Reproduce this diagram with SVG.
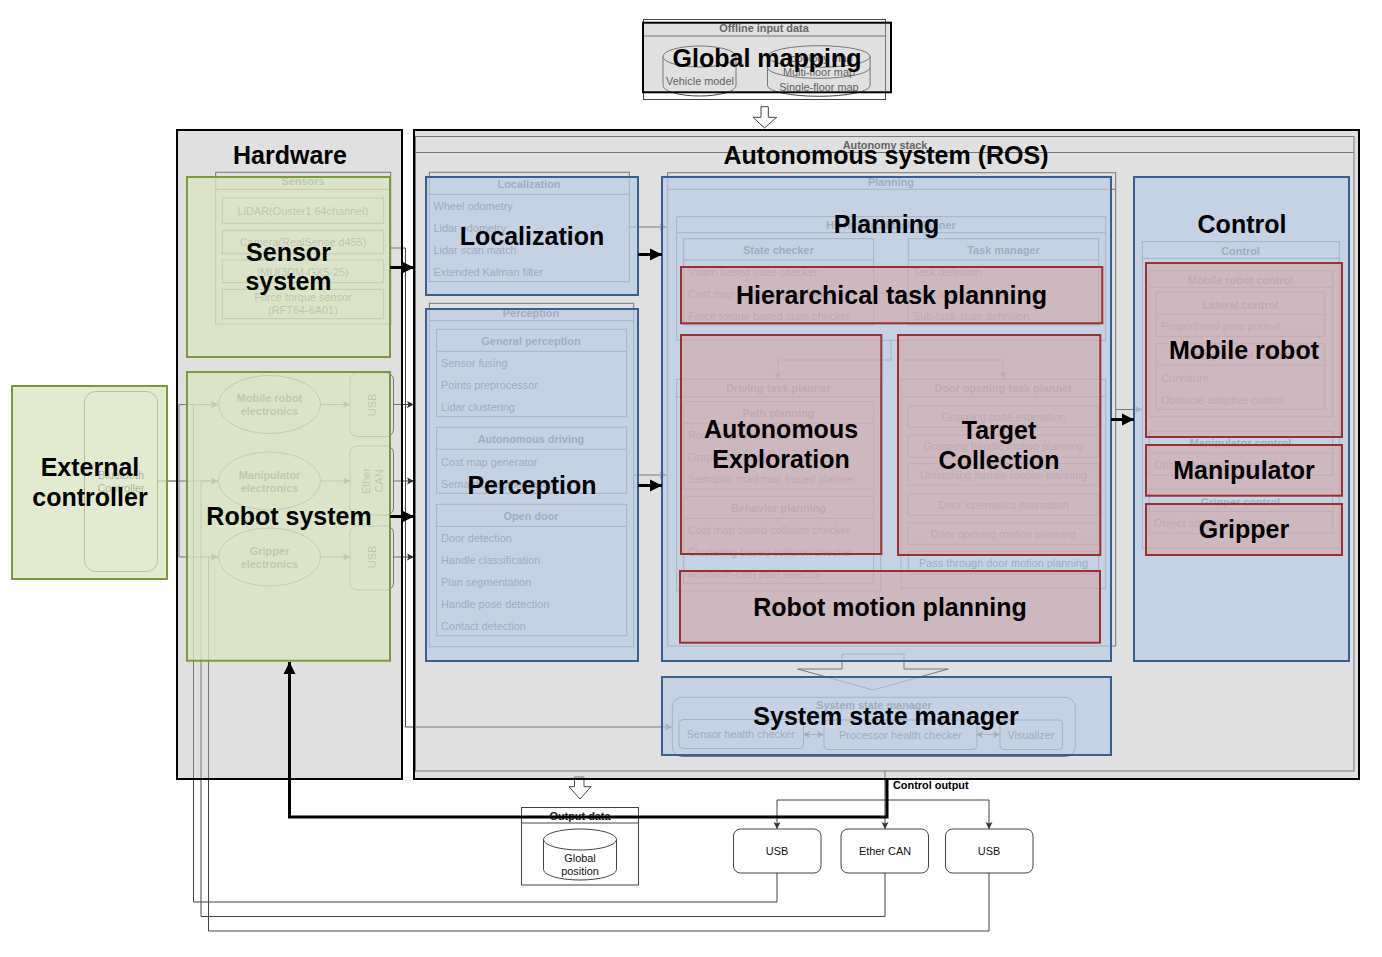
<svg xmlns="http://www.w3.org/2000/svg" width="1382" height="957" viewBox="0 0 1382 957">
<style>
text{font-family:"Liberation Sans",Arial,sans-serif;text-anchor:middle;fill:#111}
.t{font-size:10.9px;fill:#111}
.l{text-anchor:start}
.b{font-size:10.9px;font-weight:bold;fill:#222}
.s{fill:none;stroke:#444;stroke-width:1}
.c{fill:none;stroke:#444;stroke-width:1}
.h{fill:#fff;stroke:#444;stroke-width:1}
.gray{fill:#b8b8b8;fill-opacity:.44;stroke:#000;stroke-width:2}
.green{fill:#d9e5c2;fill-opacity:.77;stroke:#7a9a3e;stroke-width:2}
.blue{fill:#b8cce6;fill-opacity:.7;stroke:#35608f;stroke-width:2}
.red{fill:#d3a7a8;fill-opacity:.6;stroke:#9c3030;stroke-width:2}
.thick{fill:none;stroke:#000;stroke-width:3}
.L{font-size:25px;font-weight:bold;fill:#000}
</style>
<defs>
<marker id="a" markerUnits="userSpaceOnUse" markerWidth="8" markerHeight="8" refX="7" refY="4" orient="auto"><path d="M0 0.5L7 4L0 7.5L1.5 4z" fill="#333"/></marker>
<marker id="as" markerUnits="userSpaceOnUse" markerWidth="8" markerHeight="8" refX="1" refY="4" orient="auto"><path d="M7 0.5L0 4L7 7.5L5.5 4z" fill="#333"/></marker>
<marker id="A" markerUnits="userSpaceOnUse" markerWidth="14" markerHeight="14" refX="12" refY="7" orient="auto"><path d="M0 1L12 7L0 13z" fill="#000"/></marker>
</defs>

<g id="base-connectors">
<path class="c" d="M157.500 481H218" marker-end="url(#a)"/>
<path class="c" d="M179 481V404.500H218" marker-end="url(#a)"/>
<path class="c" d="M179 481V557H218" marker-end="url(#a)"/>
<path class="c" d="M320.500 404.500H350" marker-end="url(#a)"/>
<path class="c" d="M320.500 481H350" marker-end="url(#a)"/>
<path class="c" d="M320.500 557H350" marker-end="url(#a)"/>
<path class="c" d="M393.500 404.500H414" marker-end="url(#a)"/>
<path class="c" d="M393.500 481H414" marker-end="url(#a)"/>
<path class="c" d="M393.500 557H414" marker-end="url(#a)"/>
<path class="c" d="M391 248H405.500V727H672" marker-end="url(#a)"/>
<path class="c" d="M629 227H667" marker-end="url(#a)"/>
<path class="c" d="M634 475H667" marker-end="url(#a)"/>
<path class="c" d="M1116 409.500H1142" marker-end="url(#a)"/>
<path class="c" d="M873.700 293H908.300"/>
<path class="c" d="M891 340V360H778V379" marker-end="url(#a)"/>
<path class="c" d="M900 340V360H1003.300V379" marker-end="url(#a)"/>
<path class="c" d="M804 734.500H824" marker-start="url(#as)" marker-end="url(#a)"/>
<path class="c" d="M977 734.500H1000" marker-start="url(#as)" marker-end="url(#a)"/>
<path class="c" d="M885 771V800" />
<path class="c" d="M885 800H777V829" marker-end="url(#a)"/>
<path class="c" d="M885 800V829" marker-end="url(#a)"/>
<path class="c" d="M885 800H989V829" marker-end="url(#a)"/>
<path class="c" d="M777 873V902H193.500V404.500H218" marker-end="url(#a)"/>
<path class="c" d="M885 873V916.500H201V481H218" marker-end="url(#a)"/>
<path class="c" d="M989 873V931H208.500V557H218" marker-end="url(#a)"/>
<path class="h" d="M761 106.700H768.300V117.300H776.700L764.500 128L753 117.300H761z"/>
<path class="h" d="M574.500 777H584V786.700H591L580 799L569 786.700H574.500z"/>
<path class="h" d="M842 654H904V669H948.300L873 690L797.700 669H842z"/>
</g>

<g id="offline-input-data">
<rect class="s" x="643.500" y="19.500" width="242" height="80"/>
<path class="s" d="M643.500 36H885.500"/>
<text class="b" x="764" y="32">Offline input data</text>
<path class="s" d="M663 56.500a36.500 10.500 0 0 1 73 0v29a36.500 10.500 0 0 1 -73 0zM663 56.500a36.500 10.500 0 0 0 73 0"/>
<text class="t" x="700" y="85">Vehicle model</text>
<path class="s" d="M767.500 56.500a51.300 10.800 0 0 1 102.600 0v29a51.300 10.800 0 0 1 -102.600 0zM767.500 56.500a51.300 10.800 0 0 0 102.600 0M767.500 67.500a51.300 10.800 0 0 0 102.600 0"/>
<text class="t" x="819" y="62">Topology map</text>
<text class="t" x="819" y="76">Multi-floor map</text>
<text class="t" x="819" y="91">Single-floor map</text>
</g>

<g id="external-base">
<rect class="s" x="84.500" y="391.500" width="73" height="180" rx="11"/>
<text class="t" x="121" y="479">Bluetooth</text>
<text class="t" x="121" y="492">Controller</text>
</g>

<g id="output-data">
<rect class="s" x="521.500" y="807.500" width="117" height="77.500"/>
<path class="s" d="M521.500 823H638.500"/>
<text class="b" x="580" y="820">Output data</text>
<path class="s" d="M543.500 839.500a36.500 10.500 0 0 1 73 0v30a36.500 10.500 0 0 1 -73 0zM543.500 839.500a36.500 10.500 0 0 0 73 0"/>
<text class="t" x="580" y="862">Global</text>
<text class="t" x="580" y="875">position</text>
</g>

<g id="usb-out-1"><rect class="s" x="733.500" y="829" width="87.500" height="44" rx="7"/><text class="t" x="777" y="855">USB</text></g>
<g id="ethercan-out"><rect class="s" x="841" y="829" width="87.500" height="44" rx="7"/><text class="t" x="885" y="855">Ether CAN</text></g>
<g id="usb-out-2"><rect class="s" x="945.500" y="829" width="87.500" height="44" rx="7"/><text class="t" x="989" y="855">USB</text></g>
<text id="control-output-label" class="b" x="893" y="788.500" style="text-anchor:start;fill:#000">Control output</text>

<g id="sensors">
<rect class="s" x="215.700" y="172.300" width="175" height="151.700"/>
<path class="s" d="M215.700 189.300H390.700"/>
<text class="b" x="303" y="185">Sensors</text>
<rect class="s" x="222.300" y="198" width="161.400" height="25.300"/>
<text class="t" x="303" y="215">LiDAR(Ouster1 64channel)</text>
<rect class="s" x="222.300" y="230.300" width="161.400" height="23.400"/>
<text class="t" x="303" y="246">Camera(RealSense d455)</text>
<rect class="s" x="222.300" y="260" width="161.400" height="22.700"/>
<text class="t" x="303" y="276">IMU(3DM-GX5-25)</text>
<rect class="s" x="222.300" y="289.300" width="161.400" height="29.400"/>
<text class="t" x="303" y="301">Force torque sensor</text>
<text class="t" x="303" y="314">(RFT64-6A01)</text>
</g>

<g id="electronics">
<ellipse class="s" cx="269.500" cy="404.500" rx="51" ry="29"/>
<text class="b" x="269.500" y="402">Mobile robot</text><text class="b" x="269.500" y="415">electronics</text>
<ellipse class="s" cx="269.500" cy="481" rx="51" ry="29"/>
<text class="b" x="269.500" y="479">Manipulator</text><text class="b" x="269.500" y="492">electronics</text>
<ellipse class="s" cx="269.500" cy="557" rx="51" ry="29"/>
<text class="b" x="269.500" y="555">Gripper</text><text class="b" x="269.500" y="568">electronics</text>
<rect class="s" x="350" y="373" width="43.500" height="63.500" rx="7"/>
<text class="t" transform="translate(376 405) rotate(-90)">USB</text>
<rect class="s" x="350" y="446" width="43.500" height="69" rx="7"/>
<text class="t" transform="translate(370 481) rotate(-90)">Ether</text>
<text class="t" transform="translate(383 481) rotate(-90)">CAN</text>
<rect class="s" x="350" y="526" width="43.500" height="64" rx="7"/>
<text class="t" transform="translate(376 557) rotate(-90)">USB</text>
</g>

<g id="autonomy-stack">
<rect class="s" x="415.500" y="136.500" width="938.500" height="634.500"/>
<path class="s" d="M415.500 152.500H1354"/>
<text class="b" x="885" y="149">Autonomy stack</text>
</g>

<g id="localization-base">
<rect class="s" x="429.300" y="172.300" width="200" height="109.400"/>
<path class="s" d="M429.300 194.300H629.300"/>
<text class="b" x="529" y="188">Localization</text>
<text class="t l" x="433.500" y="210">Wheel odometry</text>
<text class="t l" x="433.500" y="232">Lidar odometry</text>
<text class="t l" x="433.500" y="254">Lidar scan match</text>
<text class="t l" x="433.500" y="276">Extended Kalman filter</text>
</g>

<g id="perception-base">
<rect class="s" x="429.300" y="303.300" width="204.400" height="343.400"/>
<path class="s" d="M429.300 320.700H633.700"/>
<text class="b" x="531" y="316.500">Perception</text>
<rect class="s" x="436.700" y="329.300" width="190" height="87.400"/>
<path class="s" d="M436.700 351.300H626.700"/>
<text class="b" x="531" y="345">General perception</text>
<text class="t l" x="441" y="367">Sensor fusing</text>
<text class="t l" x="441" y="389">Points preprocessor</text>
<text class="t l" x="441" y="411">Lidar clustering</text>
<rect class="s" x="436.700" y="427.300" width="190" height="66"/>
<path class="s" d="M436.700 449.300H626.700"/>
<text class="b" x="531" y="443">Autonomous driving</text>
<text class="t l" x="441" y="466">Cost map generator</text>
<text class="t l" x="441" y="488">Semantic segmentation</text>
<rect class="s" x="436.700" y="504.300" width="190" height="131.400"/>
<path class="s" d="M436.700 526.300H626.700"/>
<text class="b" x="531" y="520">Open door</text>
<text class="t l" x="441" y="542">Door detection</text>
<text class="t l" x="441" y="564">Handle classification</text>
<text class="t l" x="441" y="586">Plan segmentation</text>
<text class="t l" x="441" y="608">Handle pose detection</text>
<text class="t l" x="441" y="630">Contact detection</text>
</g>

<g id="planning-base">
<rect class="s" x="667.700" y="172.700" width="448" height="473.300"/>
<path class="s" d="M667.700 189.300H1115.700"/>
<text class="b" x="891" y="185.500">Planning</text>
<rect class="s" x="676.700" y="216.700" width="429" height="123.600"/>
<path class="s" d="M676.700 232.700H1105.700"/>
<text class="b" x="891" y="229">Hierarchical task planner</text>
<rect class="s" x="683.700" y="238.700" width="190" height="86.300"/>
<path class="s" d="M683.700 260H873.700"/>
<text class="b" x="778.500" y="254">State checker</text>
<text class="t l" x="688" y="276">Vision based state checker</text>
<text class="t l" x="688" y="298">Cost map based state checker</text>
<text class="t l" x="688" y="320">Force torque based state checker</text>
<rect class="s" x="908.300" y="238.700" width="190.400" height="86.300"/>
<path class="s" d="M908.300 260H1098.700"/>
<text class="b" x="1003.500" y="254">Task manager</text>
<text class="t l" x="913" y="276">Task definition</text>
<text class="t l" x="913" y="298">Task state definition</text>
<text class="t l" x="913" y="320">Sub-task state definition</text>
<rect class="s" x="676.700" y="379.300" width="204" height="211.700"/>
<path class="s" d="M676.700 396.700H880.700"/>
<text class="b" x="778.500" y="392">Driving task planner</text>
<rect class="s" x="683.700" y="401.700" width="190" height="87.300"/>
<path class="s" d="M683.700 423.300H873.700"/>
<text class="b" x="778.500" y="417">Path planning</text>
<text class="t l" x="688" y="439">Road map generator</text>
<text class="t l" x="688" y="461">Graph search planner</text>
<text class="t l" x="688" y="483">Semantic road map based planner</text>
<rect class="s" x="683.700" y="496.300" width="190" height="87"/>
<path class="s" d="M683.700 518.300H873.700"/>
<text class="b" x="778.500" y="512">Behavior planning</text>
<text class="t l" x="688" y="534">Cost map based collision checker</text>
<text class="t l" x="688" y="556">Clustering based collision checker</text>
<text class="t l" x="688" y="578">Minimum-cost path selector</text>
<rect class="s" x="901" y="379.300" width="204.700" height="209"/>
<path class="s" d="M901 396.700H1105.700"/>
<text class="b" x="1003.500" y="392">Door opening task planner</text>
<rect class="s" x="908.300" y="406" width="190.400" height="21.300"/>
<text class="t" x="1003.500" y="421">Grasping pose estimation</text>
<rect class="s" x="908.300" y="435" width="190.400" height="22.300"/>
<text class="t" x="1003.500" y="450">Grasping handle motion planning</text>
<rect class="s" x="908.300" y="463.700" width="190.400" height="21.600"/>
<text class="t" x="1003.500" y="479">Unlatching handle motion planning</text>
<rect class="s" x="908.300" y="493.700" width="190.400" height="21.600"/>
<text class="t" x="1003.500" y="509">Door kinematics estimation</text>
<rect class="s" x="908.300" y="522.700" width="190.400" height="21.600"/>
<text class="t" x="1003.500" y="538">Door opening motion planning</text>
<rect class="s" x="908.300" y="551.700" width="190.400" height="22"/>
<text class="t" x="1003.500" y="567">Pass through door motion planning</text>
</g>

<g id="control-base">
<rect class="s" x="1142.300" y="241.700" width="197" height="306.600"/>
<path class="s" d="M1142.300 258.300H1339.300"/>
<text class="b" x="1240.500" y="254.500">Control</text>
<rect class="s" x="1149.300" y="270.700" width="183.400" height="146"/>
<path class="s" d="M1149.300 287.300H1332.700"/>
<text class="b" x="1240.500" y="283.500">Mobile robot control</text>
<rect class="s" x="1156.300" y="292.300" width="168.400" height="44"/>
<path class="s" d="M1156.300 314.300H1324.700"/>
<text class="b" x="1240.500" y="308.500">Lateral control</text>
<text class="t l" x="1161" y="330">Proportional pure pursuit</text>
<rect class="s" x="1156.300" y="343.700" width="168.400" height="65.600"/>
<path class="s" d="M1156.300 365.300H1324.700"/>
<text class="b" x="1240.500" y="359">Longitudinal control</text>
<text class="t l" x="1161" y="382">Curvature</text>
<text class="t l" x="1161" y="404">Obstacle adaptive control</text>
<rect class="s" x="1149.300" y="431.300" width="183.400" height="44"/>
<path class="s" d="M1149.300 453.300H1332.700"/>
<text class="b" x="1240.500" y="447">Manipulator control</text>
<text class="t l" x="1154" y="469">Obstacle adaptive control</text>
<rect class="s" x="1149.300" y="489.300" width="183.400" height="44"/>
<path class="s" d="M1149.300 511.300H1332.700"/>
<text class="b" x="1240.500" y="505.500">Gripper control</text>
<text class="t l" x="1154" y="527">Object adaptive control</text>
</g>

<g id="system-state-base">
<rect class="s" x="672.300" y="697.300" width="403" height="59.200" rx="10"/>
<text class="b" x="874" y="709">System state manager</text>
<rect class="s" x="679" y="719.500" width="124.500" height="29" rx="4"/>
<text class="t" x="741" y="738">Sensor health checker</text>
<rect class="s" x="824" y="720" width="153" height="29.500" rx="4"/>
<text class="t" x="900.500" y="739">Processor health checker</text>
<rect class="s" x="1000" y="720" width="62.500" height="29.500" rx="4"/>
<text class="t" x="1031" y="739">Visualizer</text>
</g>

<g id="global-mapping"><rect class="gray" x="643" y="22.700" width="248" height="69.600"/></g>
<g id="hardware"><rect class="gray" x="177" y="130" width="225" height="649"/></g>
<g id="autonomous-system"><rect class="gray" x="414" y="130" width="945" height="649"/></g>
<g id="external-controller"><rect class="green" x="12" y="386" width="155" height="193"/></g>
<g id="sensor-system"><rect class="green" x="187" y="177" width="203" height="180"/></g>
<g id="robot-system"><rect class="green" x="187" y="372" width="203" height="288.700"/></g>
<g id="localization"><rect class="blue" x="426" y="177" width="212" height="118"/></g>
<g id="perception"><rect class="blue" x="426" y="309" width="212" height="352"/></g>
<g id="planning"><rect class="blue" x="662" y="177" width="449" height="484"/></g>
<g id="control"><rect class="blue" x="1134" y="177" width="215" height="484"/></g>
<g id="system-state-manager"><rect class="blue" x="662" y="677" width="449" height="78"/></g>
<g id="hierarchical-task-planning"><rect class="red" x="681" y="267" width="421.300" height="56.300"/></g>
<g id="autonomous-exploration"><rect class="red" x="681" y="335" width="200.300" height="219"/></g>
<g id="target-collection"><rect class="red" x="898" y="335" width="202.300" height="220"/></g>
<g id="robot-motion-planning"><rect class="red" x="680" y="571" width="420" height="71.700"/></g>
<g id="mobile-robot"><rect class="red" x="1146" y="263" width="196" height="174"/></g>
<g id="manipulator"><rect class="red" x="1146" y="445" width="196" height="50.700"/></g>
<g id="gripper"><rect class="red" x="1146" y="504" width="196" height="51"/></g>

<g id="connectors">
<path class="thick" d="M390 267.500H414" marker-end="url(#A)"/>
<path class="thick" d="M390 516.500H414" marker-end="url(#A)"/>
<path class="thick" d="M638 254.500H662" marker-end="url(#A)"/>
<path class="thick" d="M638 485.500H662" marker-end="url(#A)"/>
<path class="thick" d="M1111 419.500H1134" marker-end="url(#A)"/>
<path class="thick" d="M887 779V817H289.500V662" marker-end="url(#A)"/>
</g>

<g id="labels">
<text class="L" x="767" y="67">Global mapping</text>
<text class="L" x="290" y="164">Hardware</text>
<text class="L" x="886" y="164">Autonomous system (ROS)</text>
<text class="L" x="288.500" y="261">Sensor</text>
<text class="L" x="288.500" y="290">system</text>
<text class="L" x="289" y="525">Robot system</text>
<text class="L" x="90" y="476">External</text>
<text class="L" x="90" y="506">controller</text>
<text class="L" x="532" y="245">Localization</text>
<text class="L" x="532" y="494">Perception</text>
<text class="L" x="886.500" y="233">Planning</text>
<text class="L" x="891.500" y="304">Hierarchical task planning</text>
<text class="L" x="781" y="438">Autonomous</text>
<text class="L" x="781" y="468">Exploration</text>
<text class="L" x="999" y="439">Target</text>
<text class="L" x="999" y="469">Collection</text>
<text class="L" x="890" y="616">Robot motion planning</text>
<text class="L" x="1242" y="233">Control</text>
<text class="L" x="1244" y="359">Mobile robot</text>
<text class="L" x="1244" y="479">Manipulator</text>
<text class="L" x="1244" y="538">Gripper</text>
<text class="L" x="886" y="725">System state manager</text>
</g>
</svg>
